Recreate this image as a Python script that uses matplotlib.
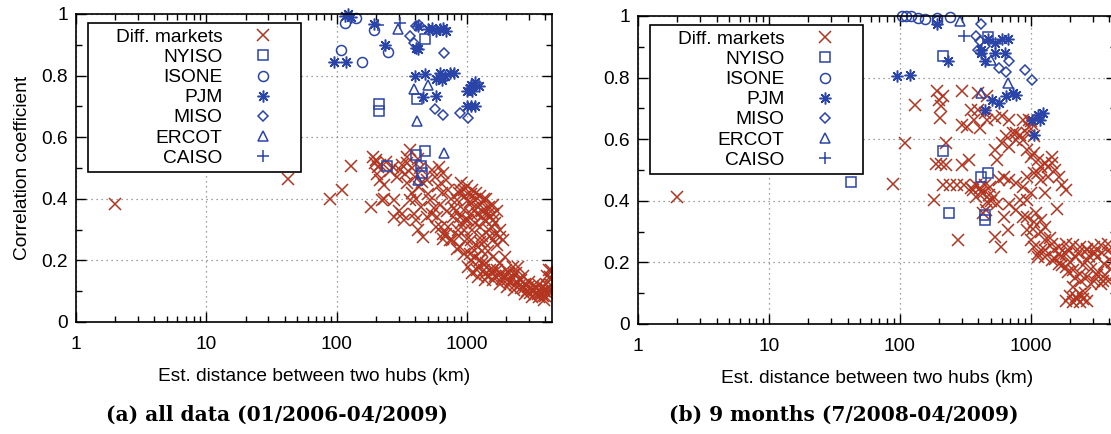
import matplotlib
matplotlib.use('Agg')
import matplotlib.pyplot as plt
from matplotlib.ticker import MultipleLocator, LogLocator, FuncFormatter, NullFormatter

plt.rcParams['font.family'] = ['Liberation Sans', 'DejaVu Sans']

RED = '#b3341f'
BLUE = '#2a44a8'

# ---- panel (a): all data ----
a_diff = [(2.0, 0.382), (42, 0.464), (89, 0.399), (110, 0.43), (130, 0.506),
          (190, 0.536), (196, 0.515), (209, 0.504), (203, 0.482), (216, 0.46), (230, 0.444),
          (184, 0.374), (223, 0.395), (278, 0.395), (278, 0.341), (315, 0.352), (269, 0.504),
          (305, 0.493), (347, 0.536), (347, 0.515), (336, 0.482), (369, 0.558), (347, 0.45),
          (369, 0.395), (393, 0.352), (406, 0.33), (419, 0.298), (460, 0.276), (432, 0.439),
          (446, 0.374), (490, 0.341), (200, 0.525), (215, 0.51), (240, 0.52), (255, 0.49),
          (290, 0.47), (320, 0.51), (380, 0.5), (400, 0.47), (420, 0.53), (440, 0.50),
          (455, 0.455), (380, 0.42), (410, 0.40), (230, 0.40), (300, 0.36), (330, 0.33),
          (490, 0.46), (506, 0.417), (539, 0.493), (574, 0.472), (611, 0.504), (651, 0.483),
          (693, 0.461), (522, 0.395), (556, 0.369), (593, 0.341), (631, 0.309), (693, 0.287),
          (763, 0.265), (838, 0.238), (600, 0.44), (640, 0.42), (720, 0.43), (760, 0.40),
          (800, 0.37), (700, 0.36), (620, 0.38), (540, 0.35), (580, 0.31), (650, 0.27),
          (720, 0.31), (780, 0.34), (850, 0.30), (870, 0.42), (900, 0.45),
          (893, 0.428), (951, 0.406), (1012, 0.395), (1079, 0.417), (1148, 0.395), (1224, 0.374),
          (1303, 0.385), (1387, 0.363), (1479, 0.374), (951, 0.363), (1079, 0.352), (838, 0.395),
          (893, 0.341), (1012, 0.330), (1148, 0.320), (1303, 0.341), (1387, 0.330), (1574, 0.352),
          (1677, 0.287), (1786, 0.276), (1479, 0.298), (951, 0.298), (1079, 0.265), (1224, 0.244),
          (1574, 0.265), (1902, 0.265), (1000, 0.44), (1100, 0.43), (1250, 0.41), (1400, 0.40),
          (1600, 0.38), (1700, 0.36), (1200, 0.35), (1500, 0.34), (1650, 0.32), (1800, 0.30),
          (1100, 0.30), (1300, 0.28), (900, 0.32), (1000, 0.27), (1350, 0.26), (1700, 0.25),
          (820, 0.36), (950, 0.43), (1050, 0.39), (1180, 0.42), (1300, 0.36), (1450, 0.35),
          (1550, 0.31), (1250, 0.31), (980, 0.33), (1120, 0.37), (870, 0.28), (1500, 0.28),
          (1350, 0.40), (1600, 0.33),
          (951, 0.222), (1079, 0.20), (1224, 0.179), (1303, 0.19), (1387, 0.157), (1574, 0.168),
          (1786, 0.157), (2027, 0.135), (2299, 0.157), (2449, 0.179), (2608, 0.135), (2778, 0.125),
          (2958, 0.114), (3152, 0.103), (3357, 0.092), (3575, 0.103), (3808, 0.114), (4056, 0.125),
          (4320, 0.146), (4460, 0.168), (3933, 0.07), (3575, 0.081), (3152, 0.081), (2778, 0.092),
          (2299, 0.103), (2027, 0.114), (1786, 0.125), (1574, 0.135), (1387, 0.135), (1224, 0.146),
          (1012, 0.179), (893, 0.244), (739, 0.265), (651, 0.287), (1150, 0.21), (1250, 0.20),
          (1400, 0.19), (1500, 0.17), (1650, 0.15), (1900, 0.15), (2100, 0.16), (2200, 0.14),
          (2500, 0.14), (2700, 0.15), (3000, 0.13), (3300, 0.12), (3600, 0.12), (3900, 0.10),
          (4200, 0.09), (4400, 0.12), (4300, 0.17), (4100, 0.15), (1800, 0.19), (2000, 0.17),
          (1300, 0.23), (1100, 0.24), (2600, 0.11), (2900, 0.10), (3400, 0.11), (4000, 0.085),
          (1100, 0.16), (1200, 0.17), (1350, 0.17), (1450, 0.15), (1550, 0.16), (1700, 0.17),
          (1850, 0.14), (2000, 0.15), (2150, 0.13), (2350, 0.12), (2550, 0.12), (2750, 0.11),
          (3050, 0.095), (3250, 0.10), (3500, 0.09), (3700, 0.095), (3850, 0.085), (4150, 0.105),
          (4450, 0.14), (4350, 0.105), (2400, 0.16), (2250, 0.18), (1950, 0.21), (1600, 0.21),
          (1450, 0.23), (1250, 0.26), (1050, 0.22)]
a_nyiso = [(475, 0.918), (213, 0.707), (213, 0.685), (417, 0.723), (44, 0.577), (245, 0.507),
           (405, 0.542), (475, 0.556), (445, 0.507), (454, 0.485)]
a_isone = [(115, 0.97), (141, 0.986), (108, 0.883), (157, 0.845), (194, 0.948), (250, 0.878)]
a_pjm = [(115, 0.995), (122, 1.0), (128, 0.99), (95, 0.845), (119, 0.845), (194, 0.966),
         (237, 0.90), (419, 0.96), (410, 0.89), (425, 0.885), (500, 0.95), (540, 0.955),
         (580, 0.945), (620, 0.95), (660, 0.955), (690, 0.945), (400, 0.80), (475, 0.805),
         (575, 0.79), (620, 0.81), (680, 0.80), (740, 0.81), (790, 0.81), (640, 0.785),
         (460, 0.73), (575, 0.735), (1000, 0.75), (1080, 0.77), (1150, 0.78), (1230, 0.765),
         (1100, 0.75), (1050, 0.76), (1000, 0.70), (1080, 0.70), (1150, 0.70)]
a_miso = [(369, 0.93), (392, 0.905), (406, 0.96), (432, 0.964), (672, 0.872), (567, 0.693),
          (650, 0.672), (893, 0.677), (1012, 0.661)]
a_ercot = [(296, 0.95), (393, 0.758), (500, 0.771), (413, 0.653), (672, 0.549), (424, 0.46)]
a_caiso = [(209, 0.964), (305, 0.972)]

# ---- panel (b): 9 months ----
b_diff = [(2.0, 0.413), (40.7, 0.616), (88.7, 0.453), (110, 0.587), (132, 0.712), (278, 0.274),
          (183, 0.402), (194, 0.755), (213, 0.739), (200, 0.728), (207, 0.709), (205, 0.668),
          (224, 0.587), (188, 0.518), (207, 0.518), (226, 0.516), (213, 0.451), (241, 0.451),
          (272, 0.451), (309, 0.451), (300, 0.516), (300, 0.755), (396, 0.75), (462, 0.739),
          (300, 0.647), (329, 0.641), (350, 0.696), (396, 0.696), (448, 0.685), (371, 0.663),
          (408, 0.636), (462, 0.663), (539, 0.668), (610, 0.674), (690, 0.663), (883, 0.663),
          (968, 0.663), (780, 0.62), (339, 0.533), (361, 0.435), (383, 0.413), (408, 0.44),
          (434, 0.424), (462, 0.397), (491, 0.446), (522, 0.413), (573, 0.467), (556, 0.533),
          (539, 0.565), (610, 0.587), (649, 0.609), (690, 0.576), (734, 0.62), (780, 0.598),
          (830, 0.614), (883, 0.598), (939, 0.62), (539, 0.283), (591, 0.25), (556, 0.391),
          (629, 0.348), (669, 0.304), (690, 0.391), (780, 0.37), (830, 0.402), (883, 0.348),
          (939, 0.402), (629, 0.478), (690, 0.467), (780, 0.457), (883, 0.446), (1000, 0.424),
          (1279, 0.424), (1585, 0.375), (350, 0.44), (380, 0.45), (420, 0.43), (450, 0.45),
          (480, 0.42), (500, 0.40), (430, 0.36), (455, 0.37),
          (939, 0.565), (1000, 0.543), (1064, 0.554), (1131, 0.533), (1203, 0.511), (1279, 0.522),
          (1361, 0.511), (1447, 0.522), (1540, 0.5), (1638, 0.478), (1742, 0.451), (1853, 0.435),
          (1131, 0.489), (1203, 0.467), (1064, 0.489), (1361, 0.478), (1447, 0.543), (939, 0.478),
          (1000, 0.66), (1030, 0.65), (970, 0.64), (1064, 0.61),
          (939, 0.348), (1064, 0.332), (1203, 0.337), (1279, 0.315), (939, 0.304), (1000, 0.272),
          (1064, 0.25), (1131, 0.228), (1279, 0.272), (1447, 0.261), (1638, 0.25), (1853, 0.261),
          (2098, 0.255), (2373, 0.25), (2685, 0.245), (3039, 0.25), (3438, 0.255), (3890, 0.261),
          (1279, 0.217), (1447, 0.207), (1638, 0.196), (1853, 0.185), (2098, 0.174), (2373, 0.163),
          (2685, 0.152), (3039, 0.141), (3438, 0.13), (3890, 0.141), (1853, 0.228), (2231, 0.217),
          (2685, 0.207), (3233, 0.217), (3659, 0.196), (2098, 0.12), (2373, 0.098), (1853, 0.076),
          (2098, 0.071), (2373, 0.071), (2685, 0.076), (2231, 0.087), (1131, 0.217), (1638, 0.228),
          (1500, 0.24), (1700, 0.22), (2000, 0.20), (2500, 0.19), (2900, 0.18), (3300, 0.17),
          (3700, 0.16), (4100, 0.18), (4300, 0.22), (4000, 0.24), (1400, 0.28), (1200, 0.30),
          (1100, 0.36), (1050, 0.31), (1200, 0.24), (2800, 0.22), (3500, 0.23), (4200, 0.20),
          (1300, 0.24), (1550, 0.21), (1750, 0.19), (1950, 0.17), (2200, 0.15), (2450, 0.14),
          (2900, 0.13), (3200, 0.16), (3600, 0.14), (2000, 0.09), (2250, 0.08), (2500, 0.08),
          (2600, 0.10), (1950, 0.24), (2300, 0.23), (2700, 0.24), (3100, 0.23)]
b_nyiso = [(470, 0.933), (213, 0.87), (42.8, 0.462), (213, 0.563), (238, 0.361), (421, 0.476),
           (470, 0.489), (448, 0.353), (448, 0.337)]
b_isone = [(105, 1.0), (111, 1.0), (122, 1.0), (138, 0.995), (157, 0.991), (194, 0.995),
           (241, 0.998), (194, 0.984)]
b_pjm = [(96, 0.804), (119, 0.807), (194, 0.973), (234, 0.855), (421, 0.891), (476, 0.924),
         (539, 0.913), (610, 0.924), (669, 0.924), (421, 0.88), (450, 0.853), (539, 0.88),
         (640, 0.88), (448, 0.696), (507, 0.728), (573, 0.717), (649, 0.739), (734, 0.75),
         (780, 0.745), (1131, 0.68), (1241, 0.685), (1180, 0.663), (1064, 0.614), (1031, 0.663)]
b_miso = [(421, 0.973), (383, 0.935), (408, 0.918), (396, 0.891), (690, 0.853), (573, 0.832),
          (649, 0.817), (911, 0.826), (1031, 0.791), (448, 0.902)]
b_ercot = [(290, 0.984), (500, 0.857), (669, 0.783), (421, 0.75)]
b_caiso = [(309, 0.935)]

LEGEND = ['Diff. markets', 'NYISO', 'ISONE', 'PJM', 'MISO', 'ERCOT', 'CAISO']
STYLES = [('x', 8.5, RED), ('s', 7.2, BLUE), ('o', 7.2, BLUE), ((8, 2, 0), 8.5, BLUE),
          ('D', 5.4, BLUE), ('^', 7.2, BLUE), ('+', 8.5, BLUE)]
FS = 13.8


def panel(ax, series, ylabel):
    for pts, name, (mk, ms, col) in zip(series, LEGEND, STYLES):
        xs = [p[0] for p in pts]
        ys = [p[1] for p in pts]
        ax.plot(xs, ys, ls='none', marker=mk, ms=ms, mfc='none', mec=col, mew=1.1,
                label=name, clip_on=False if name != 'Diff. markets' else True)
    ax.set_xscale('log')
    ax.set_xlim(1, 4500)
    ax.set_ylim(0, 1)
    ax.xaxis.set_major_locator(LogLocator(base=10))
    ax.xaxis.set_minor_locator(LogLocator(base=10, subs=range(2, 10)))
    ax.xaxis.set_minor_formatter(NullFormatter())
    ax.xaxis.set_major_formatter(FuncFormatter(lambda v, _: f'{v:g}'))
    ax.yaxis.set_major_locator(MultipleLocator(0.2))
    ax.yaxis.set_minor_locator(MultipleLocator(0.1))
    ax.yaxis.set_major_formatter(FuncFormatter(lambda v, _: f'{v:g}'))
    ax.tick_params(which='both', direction='in', top=True, right=True, width=1.0,
                   labelsize=FS)
    ax.tick_params(which='major', length=7)
    ax.tick_params(which='minor', length=4)
    ax.tick_params(axis='x', pad=10)
    ax.tick_params(axis='y', pad=6)
    ax.grid(True, which='major', color='#808080', ls=(0, (1, 3)), lw=0.9)
    for s in ax.spines.values():
        s.set_linewidth(1.2)
    ax.set_xlabel('Est. distance between two hubs (km)', fontsize=FS, labelpad=11)
    if ylabel:
        ax.set_ylabel('Correlation coefficient', fontsize=FS, labelpad=7)
    leg = ax.legend(loc='upper left', bbox_to_anchor=(0.025, 0.971), markerfirst=False,
                    fancybox=False, edgecolor='black', framealpha=1, fontsize=FS,
                    borderpad=0.3, labelspacing=0.14, handlelength=3.4, handletextpad=0.42,
                    borderaxespad=0)
    leg.get_frame().set_linewidth(1.2)
    for col in leg._legend_handle_box.get_children():
        col.width = 202


fig = plt.figure(figsize=(11.11, 4.34), dpi=100)
ax1 = fig.add_axes([76 / 1111, 112 / 434, 476 / 1111, 308 / 434])
ax2 = fig.add_axes([638 / 1111, 110 / 434, 478 / 1111, 308 / 434])

panel(ax1, [a_diff, a_nyiso, a_isone, a_pjm, a_miso, a_ercot, a_caiso], True)
panel(ax2, [b_diff, b_nyiso, b_isone, b_pjm, b_miso, b_ercot, b_caiso], False)

fig.text(277 / 1111, 0.045, '(a) all data (01/2006-04/2009)', family='DejaVu Serif',
         weight='bold', fontsize=14.5, ha='center', va='center')
fig.text(844 / 1111, 0.045, '(b) 9 months (7/2008-04/2009)', family='DejaVu Serif',
         weight='bold', fontsize=14.5, ha='center', va='center')

fig.savefig('out.png', dpi=100)
